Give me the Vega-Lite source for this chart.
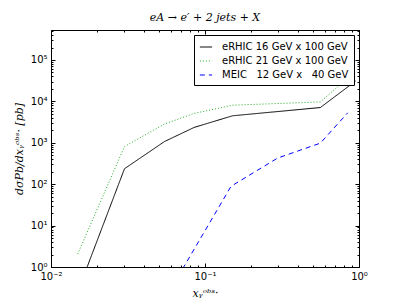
{
  "$schema": "https://vega.github.io/schema/vega-lite/v6.json",
  "autosize": "none",
  "width": 308,
  "height": 237,
  "padding": {"left": 51, "top": 30, "right": 40, "bottom": 32},
  "background": "white",
  "title": {"text": "eA → e′ + 2 jets + X", "font": "DejaVu Serif", "fontStyle": "italic", "fontWeight": "normal", "fontSize": 11, "offset": 3, "color": "black"},
  "config": {
    "view": {"stroke": "black", "strokeWidth": 1},
    "axis": {"grid": false, "domainColor": "black", "tickColor": "black", "labelColor": "black", "titleColor": "black", "labelFont": "DejaVu Sans", "labelFontSize": 10, "titleFontWeight": "normal"}
  },
  "data": {"values": [
    {"series": "eRHIC 16 GeV x 100 GeV", "x": 0.0149, "y": 0.25},
    {"series": "eRHIC 16 GeV x 100 GeV", "x": 0.03, "y": 236},
    {"series": "eRHIC 16 GeV x 100 GeV", "x": 0.0545, "y": 1070},
    {"series": "eRHIC 16 GeV x 100 GeV", "x": 0.085, "y": 2350},
    {"series": "eRHIC 16 GeV x 100 GeV", "x": 0.151, "y": 4490},
    {"series": "eRHIC 16 GeV x 100 GeV", "x": 0.561, "y": 7100},
    {"series": "eRHIC 16 GeV x 100 GeV", "x": 0.95, "y": 31000},
    {"series": "eRHIC 21 GeV x 100 GeV", "x": 0.0149, "y": 2.05},
    {"series": "eRHIC 21 GeV x 100 GeV", "x": 0.03, "y": 812},
    {"series": "eRHIC 21 GeV x 100 GeV", "x": 0.0545, "y": 2840},
    {"series": "eRHIC 21 GeV x 100 GeV", "x": 0.085, "y": 5120},
    {"series": "eRHIC 21 GeV x 100 GeV", "x": 0.151, "y": 8100},
    {"series": "eRHIC 21 GeV x 100 GeV", "x": 0.561, "y": 9700},
    {"series": "eRHIC 21 GeV x 100 GeV", "x": 0.95, "y": 54000},
    {"series": "MEIC   12 GeV x   40 GeV", "x": 0.0545, "y": 0.16},
    {"series": "MEIC   12 GeV x   40 GeV", "x": 0.1476, "y": 89},
    {"series": "MEIC   12 GeV x   40 GeV", "x": 0.296, "y": 427},
    {"series": "MEIC   12 GeV x   40 GeV", "x": 0.561, "y": 980},
    {"series": "MEIC   12 GeV x   40 GeV", "x": 0.845, "y": 5300}
  ]},
  "layer": [
    {
      "mark": {"type": "line", "clip": true, "strokeWidth": 1},
      "encoding": {
        "x": {"field": "x", "type": "quantitative", "scale": {"type": "log", "domain": [0.01, 1], "nice": false},
          "axis": {"orient": "bottom", "title": "xᵧᵒᵇˢ·", "titleFont": "DejaVu Serif", "titleFontStyle": "italic", "titleFontSize": 11, "titlePadding": 4,
            "values": [0.01,0.02,0.03,0.04,0.05,0.06,0.07,0.08,0.09,0.1,0.2,0.3,0.4,0.5,0.6,0.7,0.8,0.9,1],
            "labelExpr": "datum.value < 0.015 ? '10⁻²' : (abs(datum.value - 0.1) < 1e-6 ? '10⁻¹' : (datum.value > 0.99 ? '10⁰' : ''))",
            "tickSize": {"condition": {"test": "datum.value < 0.015 || abs(datum.value - 0.1) < 1e-6 || datum.value > 0.99", "value": -4}, "value": -2},
            "labelPadding": 8, "labelFlush": false, "labelOverlap": false}},
        "y": {"field": "y", "type": "quantitative", "scale": {"type": "log", "domain": [1, 530000], "nice": false},
          "axis": {"orient": "left", "title": "dσPb/dxᵧᵒᵇˢ·  [pb]", "titleFont": "DejaVu Serif", "titleFontStyle": "italic", "titleFontSize": 11, "titlePadding": 6,
            "values": [1,2,3,4,5,6,7,8,9,10,20,30,40,50,60,70,80,90,100,200,300,400,500,600,700,800,900,1000,2000,3000,4000,5000,6000,7000,8000,9000,10000,20000,30000,40000,50000,60000,70000,80000,90000,100000,200000,300000,400000,500000],
            "labelExpr": "indexof([1,10,100,1000,10000,100000], datum.value) >= 0 ? '10' + ['⁰','¹','²','³','⁴','⁵'][round(log(datum.value)/LN10)] : ''",
            "tickSize": {"condition": {"test": "indexof([1,10,100,1000,10000,100000], datum.value) >= 0", "value": -4}, "value": -2},
            "labelPadding": 8, "labelFlush": false, "labelOverlap": false}},
        "color": {"field": "series", "type": "nominal",
          "scale": {"domain": ["eRHIC 16 GeV x 100 GeV", "eRHIC 21 GeV x 100 GeV", "MEIC   12 GeV x   40 GeV"], "range": ["#000000", "#22aa22", "#0000ff"]},
          "legend": {"title": null, "orient": "top-right", "offset": 5, "symbolType": "stroke", "symbolSize": 150, "symbolStrokeWidth": 1,
            "labelFont": "DejaVu Sans", "labelFontSize": 10, "labelColor": "black", "labelLimit": 300,
            "labelExpr": "replace(datum.label, /   /g, '\u00a0\u00a0\u00a0')",
            "strokeColor": "black", "fillColor": "white", "padding": 5, "rowPadding": 2, "labelOffset": 9}},
        "strokeDash": {"field": "series", "type": "nominal",
          "scale": {"domain": ["eRHIC 16 GeV x 100 GeV", "eRHIC 21 GeV x 100 GeV", "MEIC   12 GeV x   40 GeV"], "range": [[1, 0], [1, 2], [5, 4]]},
          "legend": null}
      }
    },
    {
      "mark": {"type": "line", "opacity": 0},
      "encoding": {
        "x": {"field": "x", "type": "quantitative", "scale": {"type": "log", "domain": [0.01, 1], "nice": false},
          "axis": {"orient": "top", "title": null, "labels": false,
            "values": [0.01,0.02,0.03,0.04,0.05,0.06,0.07,0.08,0.09,0.1,0.2,0.3,0.4,0.5,0.6,0.7,0.8,0.9,1],
            "tickSize": {"condition": {"test": "datum.value < 0.015 || abs(datum.value - 0.1) < 1e-6 || datum.value > 0.99", "value": -4}, "value": -2}}},
        "y": {"field": "y", "type": "quantitative", "scale": {"type": "log", "domain": [1, 530000], "nice": false},
          "axis": {"orient": "right", "title": null, "labels": false,
            "values": [1,2,3,4,5,6,7,8,9,10,20,30,40,50,60,70,80,90,100,200,300,400,500,600,700,800,900,1000,2000,3000,4000,5000,6000,7000,8000,9000,10000,20000,30000,40000,50000,60000,70000,80000,90000,100000,200000,300000,400000,500000],
            "tickSize": {"condition": {"test": "indexof([1,10,100,1000,10000,100000], datum.value) >= 0", "value": -4}, "value": -2}}},
        "detail": {"field": "series"}
      }
    }
  ],
  "resolve": {"axis": {"x": "independent", "y": "independent"}}
}
